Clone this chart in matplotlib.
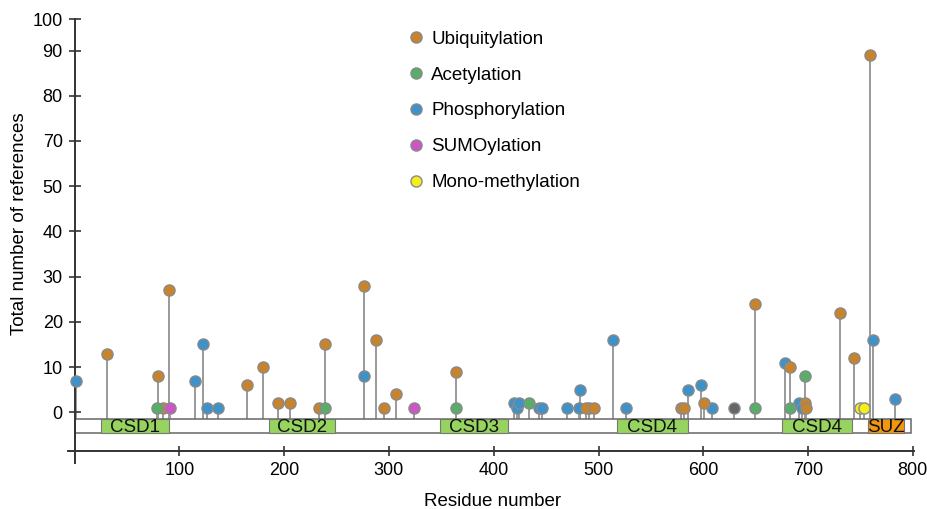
import numpy as np
import matplotlib
matplotlib.use("Agg")
import matplotlib.pyplot as plt
from matplotlib.patches import Rectangle
from matplotlib.lines import Line2D

plt.rcParams['font.family'] = ['Liberation Sans', 'DejaVu Sans']

# ---- data (residue, number of references) ----
ubiq_res = [31, 80, 84, 90, 165, 180, 194, 206, 233, 239, 276, 288, 295, 307, 364,
            488, 496, 579, 582, 601, 649, 683, 697, 698, 730, 744, 759]
ubiq_cnt = [13, 8, 1, 27, 6, 10, 2, 2, 1, 15, 28, 16, 1, 4, 9,
            1, 1, 1, 1, 2, 24, 10, 2, 1, 22, 12, 89]

acet_res = [79, 239, 364, 434, 649, 683, 697]
acet_cnt = [1, 1, 1, 2, 1, 1, 8]

phos_res = [1, 115, 123, 126, 137, 276, 419, 422, 424, 443, 446, 470, 482, 481, 491,
            514, 526, 585, 598, 608, 678, 691, 694, 762, 783]
phos_cnt = [7, 7, 15, 1, 1, 8, 2, 1, 2, 1, 1, 1, 5, 1, 1,
            16, 1, 5, 6, 1, 11, 2, 1, 16, 3]

sumo_res = [91, 324]
sumo_cnt = [1, 1]

meth_res = [750, 753]
meth_cnt = [1, 1]

other_res = [629]
other_cnt = [1]

protein_len = 798
dom_names = ['CSD1', 'CSD2', 'CSD3', 'CSD4', 'CSD4', 'SUZ']
dom_start = [25, 186, 349, 518, 675, 757]
dom_end = [90, 249, 414, 585, 742, 792]
dom_colors = ['#96d35f', '#96d35f', '#96d35f', '#96d35f', '#96d35f', '#f0960f']

ytick_vals = [0, 10, 20, 30, 40, 50, 70, 80, 90, 100]
xtick_vals = [100, 200, 300, 400, 500, 600, 700, 800]

# broken y axis: 50 -> 70 squeezed, 90 -> 100 squeezed
bp_v = np.array([0, 50, 70, 90, 100])
bp_p = np.array([0, 50, 60, 80, 86.9])


def fwd(v):
    v = np.asarray(v, dtype=float)
    out = np.interp(v, bp_v, bp_p)
    out = np.where(v < 0, v, out)
    out = np.where(v > 100, bp_p[-1] + (v - 100) * 0.69, out)
    return out


def inv(p):
    p = np.asarray(p, dtype=float)
    out = np.interp(p, bp_p, bp_v)
    out = np.where(p < 0, p, out)
    out = np.where(p > bp_p[-1], 100 + (p - bp_p[-1]) / 0.69, out)
    return out


W, H = 927, 509
fig = plt.figure(figsize=(W / 100, H / 100), dpi=100)
ax = fig.add_axes([68.3 / W, 1 - 463 / H, (913.9 - 68.3) / W, (463 - 19.3) / H])
ax.set_yscale('function', functions=(fwd, inv))
ax.set_xlim(-6, 801)
ax.set_ylim(-11.2, 100)

bar_top, bar_bot = -1.41, -4.57

series = [
    (phos_res, phos_cnt, '#3d92c9', 'Phosphorylation'),
    (ubiq_res, ubiq_cnt, '#c8842c', 'Ubiquitylation'),
    (acet_res, acet_cnt, '#58ad68', 'Acetylation'),
    (sumo_res, sumo_cnt, '#cc55c8', 'SUMOylation'),
    (meth_res, meth_cnt, '#f4ee1c', 'Mono-methylation'),
    (other_res, other_cnt, '#666666', None),
]

# stems
for res, cnt, col, lab in series:
    ax.vlines(res, bar_top, cnt, color='#9a9a9a', lw=1.4, zorder=1)

# protein bar and domains
ax.add_patch(Rectangle((0, bar_bot), protein_len, bar_top - bar_bot,
                       facecolor='white', edgecolor='#666666', lw=1.1, zorder=2))
for name, s, e, c in zip(dom_names, dom_start, dom_end, dom_colors):
    ax.add_patch(Rectangle((s, bar_bot), e - s, bar_top - bar_bot,
                           facecolor=c, edgecolor='#777777', lw=0.8, zorder=3))
    ax.text((s + e) / 2, (bar_top + bar_bot) / 2 - 0.35, name, ha='center', va='center',
            fontsize=13.5, color='#111111', zorder=4)

# points
for res, cnt, col, lab in series:
    ax.plot(res, cnt, 'o', ms=8, mfc=col, mec='#8a8a8a', mew=1.0,
            ls='none', zorder=5, clip_on=False)

# axes styling
for side in ['top', 'right']:
    ax.spines[side].set_visible(False)
ax.spines['left'].set_position(('data', 0))
ax.spines['bottom'].set_position(('data', -8.54))
for side in ['left', 'bottom']:
    ax.spines[side].set_color('#333333')
    ax.spines[side].set_linewidth(1.4)

ax.set_yticks(ytick_vals)
ax.set_yticklabels([str(v) for v in ytick_vals])
ax.set_xticks(xtick_vals)
ax.set_xticklabels([str(v) for v in xtick_vals])
ax.minorticks_off()
ax.tick_params(axis='y', direction='inout', length=9, width=1.2, pad=4,
               labelsize=13, color='#333333')
ax.tick_params(axis='x', direction='inout', length=7.2, width=1.2, pad=4,
               labelsize=13, color='#333333')

ax.set_ylabel('Total number of references', fontsize=13.5)
ax.yaxis.label.set_va('center')
ax.yaxis.set_label_coords((20 - 68.3) / (913.9 - 68.3), (463 - 224) / (463 - 19.3))
ax.set_xlabel('Residue number', fontsize=13.5)
ax.xaxis.label.set_va('center')
ax.xaxis.set_label_coords((493 - 68.3) / (913.9 - 68.3), (463 - 501) / (463 - 19.3))

# legend
leg_order = ['Ubiquitylation', 'Acetylation', 'Phosphorylation', 'SUMOylation', 'Mono-methylation']
col_map = {lab: col for _, _, col, lab in series if lab}
handles = [Line2D([], [], marker='o', ls='none', ms=8, mfc=col_map[l],
                  mec='#8a8a8a', mew=1.0, label=l) for l in leg_order]
ax.legend(handles=handles, loc='upper left', frameon=False, fontsize=13.5,
          bbox_to_anchor=(406.7 / W, 1 - 30.5 / H), bbox_transform=fig.transFigure,
          borderaxespad=0, borderpad=0, handlelength=1.0, handletextpad=0.3,
          labelspacing=1.0)

fig.savefig('out.png', dpi=100, facecolor='white')
